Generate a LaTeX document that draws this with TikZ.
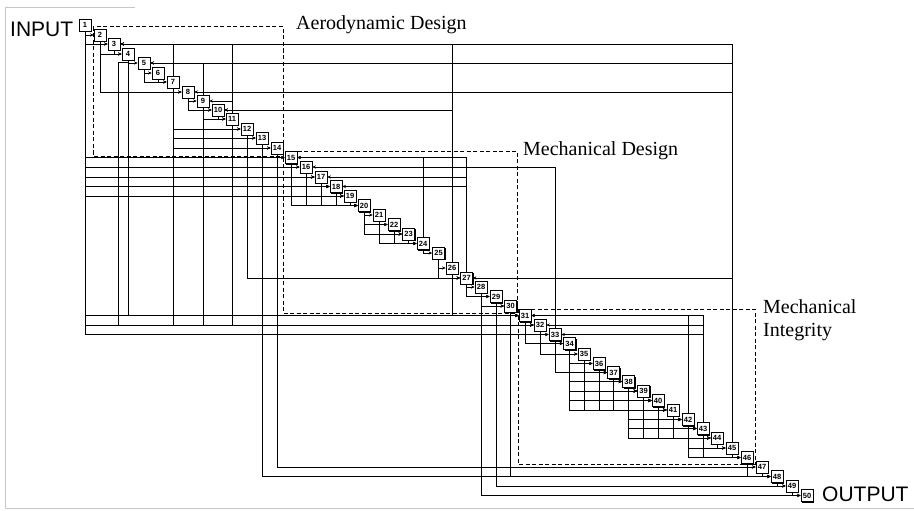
\documentclass[tikz,border=0pt]{standalone}
\usepackage{fontspec}
\setmainfont{Liberation Serif}
\newfontfamily\sansf{Liberation Sans}
\usetikzlibrary{arrows.meta,shadows}
\begin{document}
\begin{tikzpicture}[x=1pt,y=-1pt,
  boxn/.style={draw,line width=0.7pt,fill=white,minimum width=12pt,minimum height=12pt,inner sep=0pt,
    font=\sansf\bfseries\fontsize{7.5}{8}\selectfont,
    drop shadow={shadow xshift=1.3pt,shadow yshift=-1.3pt,fill=black,opacity=1}},
  fwd/.style={line width=0.95pt,-{Stealth[length=3.5pt,width=3.2pt]}},
  fbk/.style={line width=0.95pt,-{Stealth[length=3.5pt,width=3.2pt]}},
  grp/.style={line width=1pt,dash pattern=on 4pt off 2.5pt},
  lbl/.style={font=\fontsize{20}{23}\selectfont,inner sep=0pt,anchor=base west},
  io/.style={font=\sansf\fontsize{21}{24}\selectfont,inner sep=0pt,anchor=base west},
  frm/.style={gray!45,line width=0.6pt}
]
\useasboundingbox (0,0) rectangle (914,511);
% scan frame
\draw[frm] (135,7) -- (5,7) -- (5,508) -- (914,508);
% groups
\draw[grp] (93,27) rectangle (283,156);
\draw[grp] (283,151) rectangle (517,313);
\draw[grp] (518,309) rectangle (755,464);
% tasks
\foreach \nn/\xx/\yy in {1/85/25, 2/100/35, 3/114/44, 4/128/54, 5/144/63, 6/158/73, 7/173/82,
  8/188/92, 9/203/101, 10/218/110, 11/232/119, 12/247/129, 13/262/138, 14/277/148,
  15/291/157.5, 16/306/167, 17/321/177, 18/336/186.5, 19/350/196, 20/364/205.5,
  21/379/215, 22/394/224.5, 23/408.5/234, 24/423/243.5, 25/438.5/253, 26/452/268,
  27/466.5/278, 28/481/287, 29/496/296.5, 30/510.5/306, 31/525/315.5, 32/540/325,
  33/555/334.5, 34/569.5/343.5, 35/584/354, 36/599/363.5, 37/613.5/372.5, 38/628.5/381.5,
  39/643.5/391, 40/658/400.5, 41/673/410, 42/688/419.5, 43/703/428.5, 44/717/438,
  45/732/448, 46/747/457.5, 47/762/467, 48/777/476.5, 49/792/486, 50/807/495.5}
  \node[boxn] (b\nn) at (\xx,\yy) {\nn};
% forward flows
\foreach \i/\j in {1/2,1/3,1/15,1/16,1/17,1/18,1/19,1/31,1/32,1/33,
  2/3,2/4,2/8,3/4,4/5,4/31,5/6,5/7,6/7,
  7/8,7/12,7/13,7/14,7/32,8/9,8/10,9/10,9/11,9/32,10/11,11/12,11/32,
  12/13,12/27,13/14,13/48,14/15,14/47,
  15/16,15/17,15/18,15/19,15/20,16/17,16/18,16/19,16/20,17/18,17/19,17/20,18/19,18/20,19/20,
  20/21,20/22,20/23,21/22,21/23,21/24,22/23,22/24,23/24,24/25,25/26,25/27,26/27,26/31,
  27/28,27/29,28/29,28/30,28/50,29/30,29/49,30/31,30/48,
  31/32,31/34,32/33,32/35,33/34,33/37,
  34/35,34/36,34/37,34/38,34/39,34/40,34/41,35/36,35/37,35/38,35/39,35/40,35/41,
  36/37,36/38,36/39,36/40,36/41,37/38,37/39,37/40,37/41,
  38/39,38/40,38/41,38/42,38/43,38/44,39/40,39/41,39/42,39/43,39/44,
  40/41,40/42,40/43,40/44,41/42,41/43,41/44,
  42/43,42/44,42/45,42/46,43/44,43/45,43/46,44/45,45/46,46/47,46/48,47/48,48/49,49/50}
  \draw[fwd] (b\i.south) |- (b\j.west);
\coordinate (k4) at (118,62);
\draw[fwd] (b4.south) |- (k4) |- (b32.west);
% feedback flows
\foreach \j/\i in {7/3,9/5,11/3,11/9,11/10,24/15,26/3,26/10,27/15,27/17,27/18,33/16,
  42/31,43/31,43/32,43/33,45/3,45/5,45/8,45/27}
  \draw[fbk] (b\j.north) |- (b\i.east);
% labels
\node[io] (inp) at (10,36.5) {INPUT};
\node[io] (outp) at (822,501.5) {OUTPUT};
\node[lbl] (aero) at (296,30) {Aerodynamic Design};
\node[lbl] (mech) at (523,155.5) {Mechanical Design};
\node[lbl] (mi1) at (763,313.5) {Mechanical};
\node[lbl] (mi2) at (763,336.5) {Integrity};
\end{tikzpicture}
\end{document}
